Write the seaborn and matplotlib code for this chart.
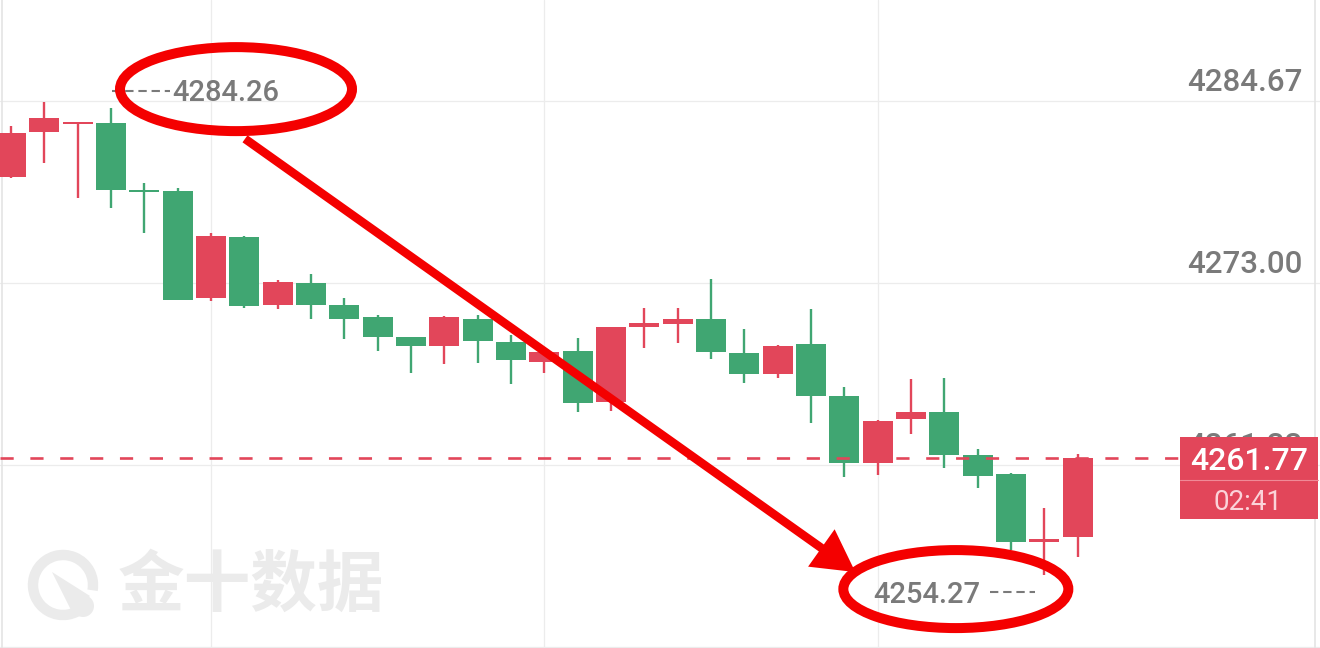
import numpy as np
import pandas as pd
import matplotlib
matplotlib.use("Agg")
import matplotlib.pyplot as plt
import matplotlib.transforms as mtransforms
from matplotlib.patches import Rectangle, Ellipse, FancyArrowPatch, Arc, Polygon, ArrowStyle
from matplotlib.lines import Line2D
import seaborn as sns

# ---------------- data ----------------
opens = [4279.80, 4282.73, 4283.20, 4283.31, 4278.96, 4278.94, 4272.04, 4275.99, 4271.59, 4273.04,
         4271.61, 4270.82, 4269.53, 4268.99, 4270.71, 4269.25, 4267.97, 4268.67, 4265.40, 4270.21,
         4270.41, 4270.73, 4268.55, 4267.18, 4269.10, 4265.77, 4261.49, 4264.27, 4264.72, 4261.98,
         4260.74, 4256.38, 4256.74]
highs = [4283.10, 4284.64, 4283.33, 4284.26, 4279.46, 4279.10, 4276.21, 4276.05, 4273.21, 4273.60,
         4272.08, 4270.97, 4269.55, 4270.90, 4270.97, 4269.68, 4268.65, 4269.51, 4270.20, 4271.43,
         4271.43, 4273.30, 4270.05, 4269.03, 4271.37, 4266.36, 4264.22, 4266.88, 4266.90, 4262.35,
         4260.80, 4258.56, 4262.02]
lows = [4279.75, 4280.70, 4278.44, 4277.85, 4276.25, 4271.90, 4271.86, 4271.43, 4271.33, 4270.69,
        4269.41, 4268.67, 4267.26, 4267.80, 4267.87, 4266.54, 4267.26, 4264.72, 4264.82, 4268.87,
        4269.19, 4268.12, 4266.58, 4266.94, 4264.01, 4260.59, 4260.70, 4263.33, 4261.15, 4259.84,
        4255.88, 4254.27, 4255.41]
closes = [4282.67, 4283.63, 4283.31, 4278.99, 4278.83, 4271.93, 4276.06, 4271.54, 4273.08, 4271.59,
          4270.69, 4269.57, 4268.99, 4270.86, 4269.30, 4268.08, 4268.61, 4265.34, 4270.18, 4270.47,
          4270.71, 4268.61, 4267.18, 4268.99, 4265.77, 4261.49, 4264.18, 4264.76, 4261.98, 4260.65,
          4256.41, 4256.57, 4261.77]

grid_prices = [4284.67, 4273.00, 4261.33, 4249.67]
grid_labels = ["4284.67", "4273.00", "4261.33", ""]
vgrid_idx = [6, 16, 26]
last_price_label = "4261.77"
countdown_label = "02:41"
high_idx, high_label = 3, "4284.26"
low_idx, low_label = 31, "4254.27"
watermark_text = "金十数据"

df = pd.DataFrame({"o": opens, "h": highs, "l": lows, "c": closes})
df["i"] = np.arange(len(df))

# ---------------- style ----------------
RED = "#e2465a"
GREEN = "#40a672"
MARK = "#f40000"
GRAY = "#7a7a7a"
GRID = "#ececec"

sns.set_theme(style="white")
plt.rcParams["font.family"] = ["Liberation Sans Narrow", "Roboto", "DejaVu Sans"]
plt.rcParams["lines.scale_dashes"] = False
NUMFONT = ["Liberation Sans Narrow", "Roboto", "DejaVu Sans"]

W, H = 1320, 648
fig = plt.figure(figsize=(W / 100, H / 100), dpi=100)
ax = fig.add_axes([0, 0, 1, 1])
ax.set_xlim(-0.33, 39.27)
ax.set_ylim(4249.59, 4291.18)
for s in ax.spines.values():
    s.set_visible(False)
ax.set_yticks(grid_prices)
ax.set_xticks(vgrid_idx)
ax.tick_params(length=0, labelleft=False, labelbottom=False)
ax.grid(True, color=GRID, lw=0.9)
ax.set_axisbelow(True)

# borders
ax.add_line(Line2D([1.5 / W, 1.5 / W], [0, 1], transform=ax.transAxes, color="#e4e4e4", lw=1.2))
ax.add_line(Line2D([1315 / W, 1315 / W], [0, 1], transform=ax.transAxes, color="#e4e4e4", lw=1.2))

# ---------------- candles ----------------
up = df["c"] >= df["o"]
cols = np.where(up, RED, GREEN)
bottom = np.minimum(df["o"], df["c"])
height = np.maximum((df["c"] - df["o"]).abs(), 0.12)
ax.vlines(df["i"], df["l"], df["h"], colors=cols, lw=1.7, zorder=3)
ax.bar(df["i"], height, bottom=bottom, width=0.9, color=cols, lw=0, zorder=4)

# ---------------- right axis labels ----------------
blend = mtransforms.blended_transform_factory(ax.transAxes, ax.transData)
lab_tr = mtransforms.offset_copy(blend, fig=fig, x=0, y=10.5, units="dots")
for p, lab in zip(grid_prices, grid_labels):
    if lab:
        ax.text(1302 / W, p, lab, transform=lab_tr, ha="right", va="baseline",
                fontsize=22.5, fontweight="medium", color=GRAY, family=NUMFONT, zorder=2)

# ---------------- last price line and box ----------------
ax.plot([0, 1180 / W], [closes[-1], closes[-1]], transform=blend, color=RED, lw=1.9,
        dashes=(9.5, 12), zorder=5)
ax.add_patch(Rectangle((1180 / W, 1 - 519 / H), 138 / W, 82 / H, transform=ax.transAxes,
                       color=RED, lw=0, zorder=6))
ax.add_line(Line2D([1180 / W, 1318 / W], [1 - 480 / H] * 2, transform=ax.transAxes,
                   color="#f08a97", lw=0.8, zorder=7))
ax.text(1249 / W, 1 - 470 / H, last_price_label, transform=ax.transAxes, ha="center",
        va="baseline", fontsize=23, fontweight="medium", color="white", family=NUMFONT, zorder=8)
ax.text(1248 / W, 1 - 510 / H, countdown_label, transform=ax.transAxes, ha="center",
        va="baseline", fontsize=20, color="#fbd3d9", family=NUMFONT, zorder=8)


# ---------------- high / low markers ----------------
def disp(i, p, dx=0.0, dy=0.0):
    x, y = ax.transData.transform((i, p))
    return x + dx, y + dy


def to_ax(pt):
    return tuple(ax.transAxes.inverted().transform(pt))


hx, hy = disp(high_idx, highs[high_idx])
lx, ly = disp(low_idx, lows[low_idx])

# high label (dashes then text)
a = to_ax((hx + 1, hy + 16.4))
b = to_ax((hx + 59, hy + 16.4))
ax.add_line(Line2D([a[0], b[0]], [a[1], b[1]], transform=ax.transAxes, color=GRAY, lw=1.5,
                   dashes=(6, 3.5), zorder=6))
t = to_ax((hx + 61, hy + 7))
ax.text(t[0], t[1], high_label, transform=ax.transAxes, ha="left", va="baseline",
        fontsize=21, fontweight="medium", color=GRAY, family=NUMFONT, zorder=6)

# low label (text then dashes)
a = to_ax((lx - 54, ly - 17))
b = to_ax((lx - 9, ly - 17))
ax.add_line(Line2D([a[0], b[0]], [a[1], b[1]], transform=ax.transAxes, color=GRAY, lw=1.5,
                   dashes=(6, 3.5), zorder=6))
t = to_ax((lx - 64, ly - 27.7))
ax.text(t[0], t[1], low_label, transform=ax.transAxes, ha="right", va="baseline",
        fontsize=21, fontweight="medium", color=GRAY, family=NUMFONT, zorder=6)

# ---------------- red hand-drawn annotations ----------------
e1c = to_ax((hx + 125, hy + 18.7))
ax.add_patch(Ellipse(e1c, 232 / W, 84 / H, transform=ax.transAxes, fill=False,
                     ec=MARK, lw=7.2, zorder=9))
e2c = to_ax((lx - 88.5, ly - 14))
ax.add_patch(Ellipse(e2c, 225 / W, 78 / H, transform=ax.transAxes, fill=False,
                     ec=MARK, lw=7.2, zorder=9))
start = to_ax((hx + 134, hy - 31))
end = to_ax((lx - 189, ly + 3))
arrow = FancyArrowPatch(start, end, transform=ax.transAxes,
                        arrowstyle=ArrowStyle("Simple", head_length=30, head_width=33, tail_width=6.2),
                        mutation_scale=1, color=MARK, lw=0, shrinkA=0, shrinkB=0, zorder=9)
ax.add_patch(arrow)

# ---------------- watermark ----------------
WM = "#ebebeb"
ax.text(118 / W, 1 - 586 / H, watermark_text, transform=ax.transAxes, ha="left", va="center",
        fontsize=48, fontweight="bold", color=WM, family=["Noto Sans CJK SC", "DejaVu Sans"],
        zorder=1)
ax.add_patch(Arc((63 / W, 1 - 585 / H), 60 / W, 60 / H, theta1=-20, theta2=285,
                 transform=ax.transAxes, color=WM, lw=7.5, zorder=1))
ax.add_patch(Polygon([(52 / W, 1 - 572 / H), (90 / W, 1 - 596 / H), (72 / W, 1 - 612 / H)],
                     closed=True, transform=ax.transAxes, color=WM, lw=0, zorder=1))
ax.add_patch(Ellipse((83 / W, 1 - 606 / H), 22 / W, 22 / H, transform=ax.transAxes,
                     color=WM, lw=0, zorder=1))

fig.savefig("out.png", dpi=100, facecolor="white")
